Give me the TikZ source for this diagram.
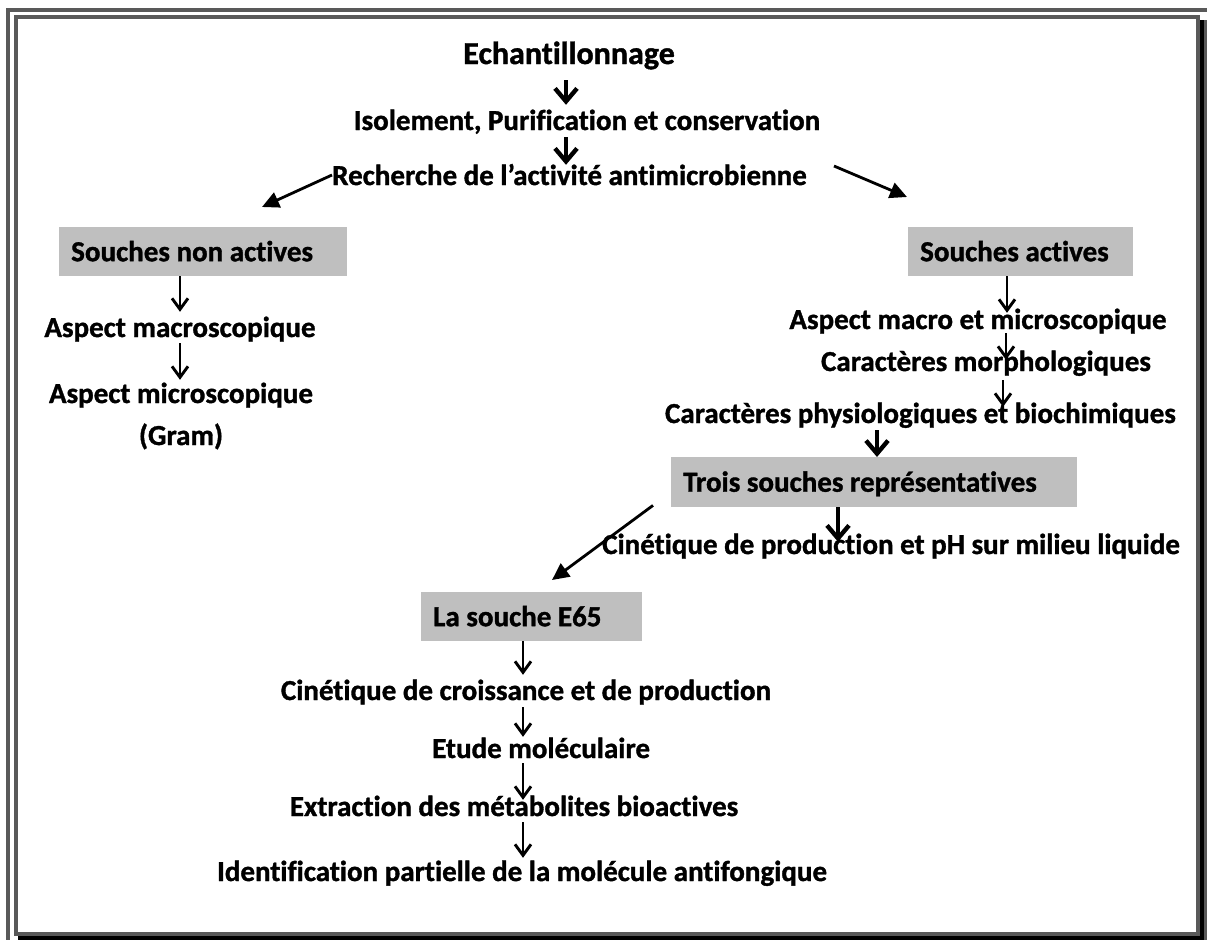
\documentclass[tikz,border=0pt]{standalone}
\usepackage{fontspec}
\setmainfont{Carlito}[Ligatures={TeX,NoCommon}, BoldFeatures={FakeBold=1.2}]
\usetikzlibrary{arrows.meta}
\definecolor{framegray}{RGB}{89,89,89}
\definecolor{boxgray}{RGB}{191,191,191}
\begin{document}
\begin{tikzpicture}[x=1pt,y=-1pt,
  txt/.style={inner sep=0pt, font=\bfseries\fontsize{29}{34}\selectfont, text height=20pt, text depth=6pt, anchor=base},
  box/.style={fill=boxgray, anchor=north west, inner xsep=12pt, inner ysep=0pt, minimum height=49pt, font=\bfseries\fontsize{29}{34}\selectfont, text height=23pt, text depth=4pt},
  thinarr/.style={line width=2.9pt, -{Straight Barb[length=11pt,width=16pt]}},
  thickarr/.style={line width=4.4pt, -{Straight Barb[length=13pt,width=22pt]}},
  diagarr/.style={line width=2.8pt, -{Triangle[length=17pt,width=16pt]}}
]
\useasboundingbox (0,0) rectangle (1207,940);
% frame
\fill[framegray] (6,8) rectangle (1207,12);
\fill[framegray] (6,8) rectangle (10,940);
\fill[framegray] (1204,20) rectangle (1207,940);
\draw[framegray, line width=4pt] (16,17) rectangle (1198,934);
\fill[black] (1200,20) rectangle (1204,940);
\fill[black] (18,936) rectangle (1204,940);

% x positions of vertical connectors
\coordinate (xa) at (180,0);
\coordinate (xb) at (1007,0);
\coordinate (xb2) at (1006,0);
\coordinate (xb3) at (1003,0);
\coordinate (xc) at (566,0);
\coordinate (xd) at (877,0);
\coordinate (xe) at (838,0);
\coordinate (xf) at (523,0);

% nodes
\node[txt, font=\bfseries\fontsize{32}{38}\selectfont, text height=22pt, text depth=7pt] (ech) at (569,64) {Echantillonnage};
\node[txt] (iso) at (587,130) {Isolement, Purification et conservation};
\node[txt, anchor=base west] (rech) at (332,185) {Recherche de l’activité antimicrobienne};
\node[box] (sna) at (59,227) {\makebox[264pt][l]{Souches non actives}};
\node[box] (sa) at (908,227) {\makebox[201pt][l]{Souches actives}};
\node[txt] (am) at (180,337) {Aspect macroscopique};
\node[txt] (amic) at (181,403) {Aspect microscopique};
\node[txt] (gram) at (181,445) {(Gram)};
\node[txt] (amm) at (978,329) {Aspect macro et microscopique};
\node[txt] (cm) at (986,371) {Caractères morphologiques};
\node[txt, anchor=base east] (cp) at (1176,423) {Caractères physiologiques et biochimiques};
\node[box, minimum height=50pt] (trois) at (671,457) {\makebox[382pt][l]{Trois souches représentatives}};
\node[txt, anchor=base west] (cprod) at (602,554) {Cinétique de production et pH sur milieu liquide};
\node[box] (e65) at (421,592) {\makebox[197pt][l]{La souche E65}};
\node[txt] (ccr) at (526,700) {Cinétique de croissance et de production};
\node[txt, anchor=base west] (etude) at (432,758) {Etude moléculaire};
\node[txt] (extr) at (514,816) {Extraction des métabolites bioactives};
\node[txt] (ident) at (522,881) {Identification partielle de la molécule antifongique};

% connectors
\draw[thickarr, shorten <=9pt, shorten >=5pt] (ech.south -| xc) -- (iso.north -| xc);
\draw[thickarr, shorten <=1pt] (iso.south -| xc) -- (rech.north -| xc);
\draw[diagarr] ([yshift=3pt]rech.west) -- ([xshift=203pt,yshift=20pt]sna.north west);
\draw[diagarr] ([xshift=27pt,yshift=12pt]rech.east) -- ([xshift=-1pt,yshift=30pt]sa.north west);
\draw[thinarr, shorten >=5pt] (sna.south -| xa) -- (am.north -| xa);
\draw[thinarr, shorten >=3pt] (am.south -| xa) -- (amic.north -| xa);
\draw[thinarr, shorten >=-4pt] (sa.south -| xb) -- (amm.north -| xb);
\draw[thinarr, shorten <=-2pt, shorten >=-9pt] (amm.south -| xb2) -- (cm.north -| xb2);
\draw[thinarr, shorten <=3pt, shorten >=-4pt] (cm.south -| xb3) -- (cp.north -| xb3);
\draw[thickarr, shorten <=1pt] (cp.south -| xd) -- (trois.north -| xd);
\draw[thickarr, shorten >=-8pt] (trois.south -| xe) -- (cprod.north -| xe);
\draw[diagarr] ([xshift=-18pt,yshift=2pt]trois.south west) -- ([xshift=131pt,yshift=12pt]e65.north west);
\draw[thinarr, shorten >=5pt] (e65.south -| xf) -- (ccr.north -| xf);
\draw[thinarr, shorten <=1pt, shorten >=1pt] (ccr.south -| xf) -- (etude.north -| xf);
\draw[thinarr, shorten <=-1pt, shorten >=-4pt] (etude.south -| xf) -- (extr.north -| xf);
\draw[thinarr, shorten >=3pt] (extr.south -| xf) -- (ident.north -| xf);
\end{tikzpicture}
\end{document}
